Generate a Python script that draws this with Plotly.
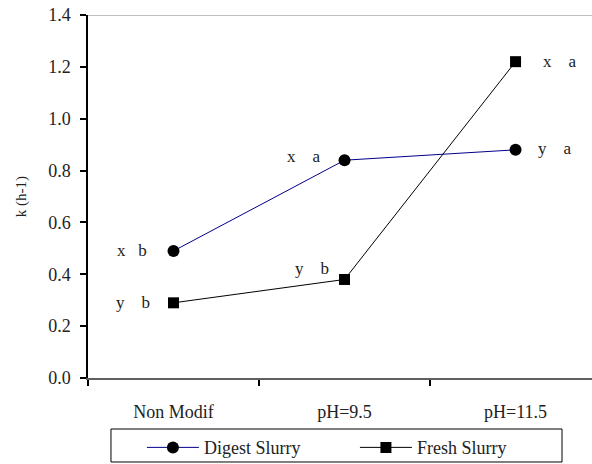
import plotly.graph_objects as go

categories = ["Non Modif", "pH=9.5", "pH=11.5"]
digest = [0.49, 0.84, 0.88]
fresh = [0.29, 0.38, 1.22]
digest_labels = ["x\u00a0\u00a0\u00a0b", "x\u00a0\u00a0\u00a0\u00a0a", "y\u00a0\u00a0\u00a0\u00a0a"]
fresh_labels = ["y\u00a0\u00a0\u00a0\u00a0b", "y\u00a0\u00a0\u00a0\u00a0b", "x\u00a0\u00a0\u00a0\u00a0a"]
yticks = [0.0, 0.2, 0.4, 0.6, 0.8, 1.0, 1.2, 1.4]

FONT = "'Liberation Serif', 'Times New Roman', 'DejaVu Serif', serif"
TXT = "#222"

fig = go.Figure()
fig.add_trace(go.Scatter(
    x=categories, y=digest, name="Digest Slurry", mode="lines+markers",
    line=dict(color="#00008B", width=1),
    marker=dict(symbol="circle", size=12, color="black"),
))
fig.add_trace(go.Scatter(
    x=categories, y=fresh, name="Fresh Slurry", mode="lines+markers",
    line=dict(color="black", width=1),
    marker=dict(symbol="square", size=11, color="black"),
))

d_off = [(-25, 0, "right"), (-22, 4, "right"), (20, 1, "left")]
f_off = [(-22, 0, "right"), (-14, 11, "right"), (25, 0, "left")]
for cat, v, t, (dx, dy, anc) in zip(categories, digest, digest_labels, d_off):
    fig.add_annotation(x=cat, y=v, text=t, showarrow=False, xanchor=anc,
                       xshift=dx, yshift=dy, font=dict(family=FONT, size=17, color=TXT))
for cat, v, t, (dx, dy, anc) in zip(categories, fresh, fresh_labels, f_off):
    fig.add_annotation(x=cat, y=v, text=t, showarrow=False, xanchor=anc,
                       xshift=dx, yshift=dy, font=dict(family=FONT, size=17, color=TXT))

# top border line
fig.add_shape(type="line", xref="paper", yref="y", x0=0, x1=1, y0=1.4, y1=1.4,
              line=dict(color="#a8a8a8", width=1.5), layer="below")
# legend frame
fig.add_shape(type="rect", xref="paper", yref="paper", x0=0.0456, x1=0.9405,
              y0=-0.2314, y1=-0.1405, line=dict(color="black", width=1),
              fillcolor="white", layer="below")

fig.update_layout(
    width=592, height=464,
    margin=dict(l=88, r=0, t=15, b=86, autoexpand=False),
    paper_bgcolor="white", plot_bgcolor="white",
    font=dict(family=FONT, size=18, color=TXT),
    showlegend=True,
    legend=dict(
        orientation="h", x=0.107, y=-0.141, xanchor="left", yanchor="top",
        borderwidth=0, bgcolor="rgba(0,0,0,0)",
        itemwidth=52, entrywidth=146, entrywidthmode="pixels",
        font=dict(family=FONT, size=18, color=TXT),
        itemclick=False,
    ),
)
fig.update_xaxes(
    type="category", range=[-0.5, 2.447],
    showline=True, linecolor="#606060", linewidth=2,
    ticks="outside", tickson="boundaries", ticklen=6, tickcolor="black", tickwidth=1.5,
    showgrid=False, zeroline=False, ticklabelstandoff=16,
    tickfont=dict(family=FONT, size=18, color=TXT),
)
fig.update_yaxes(
    range=[0, 1.4], tickvals=yticks, tickformat=".1f",
    showline=True, linecolor="black", linewidth=1.5,
    ticks="outside", ticklen=6, tickcolor="black", tickwidth=1.5,
    showgrid=False, zeroline=False, ticklabelstandoff=6,
    tickfont=dict(family=FONT, size=18, color=TXT),
    title=dict(text="k (h-1)", standoff=18, font=dict(family=FONT, size=15, color=TXT)),
)

fig.write_html("out.html", config={"displayModeBar": False},
               post_script="document.body.style.margin='0';document.body.style.overflow='hidden';")
